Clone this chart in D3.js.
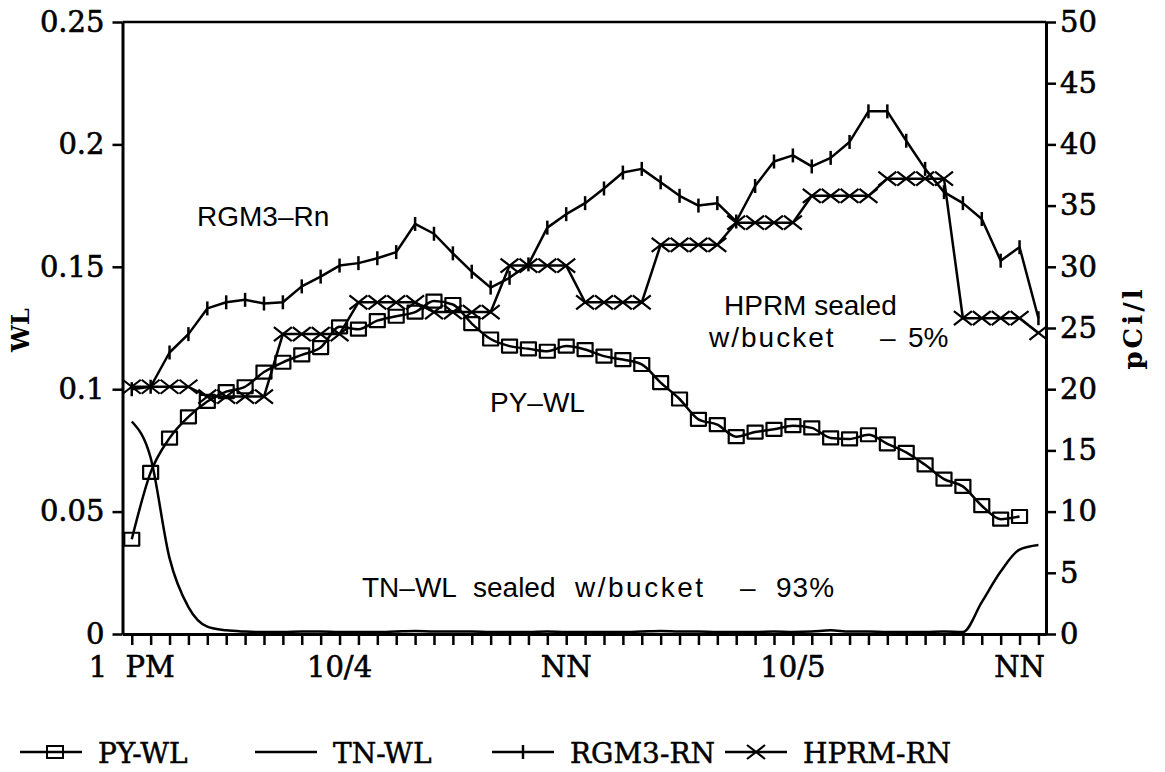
<!DOCTYPE html>
<html>
<head>
<meta charset="utf-8">
<script src="https://cdn.jsdelivr.net/npm/d3@7"></script>
<style>
  body { margin: 0; background: #fff; }
  svg { display: block; }
  .tick-label { font-family: "DejaVu Serif", serif; font-size: 29px; fill: #000; stroke: #000; stroke-width: 0.6px; }
  .note { font-family: "Liberation Sans", Arial, sans-serif; font-size: 28px; fill: #000; }
  .legend-text { font-family: "DejaVu Serif", serif; font-size: 28px; fill: #000; stroke: #000; stroke-width: 0.5px; }
  .axis-title { font-family: "DejaVu Serif", serif; font-weight: bold; font-size: 24px; fill: #000; }
</style>
</head>
<body>
<svg id="chart"></svg>
<script>
// hourly samples, 1 PM 10/3 through 1 PM 10/5
const hours = d3.range(0, 49);

// WL (left axis)
const pyWL = [0.0387, 0.066, 0.080, 0.0887, 0.095, 0.099, 0.101, 0.107, 0.111, 0.114,
  0.117, 0.1255, 0.1245, 0.128, 0.1298, 0.1315, 0.136, 0.1346, 0.1268, 0.1205,
  0.1176, 0.1165, 0.1155, 0.1176, 0.1162, 0.1135, 0.1121, 0.1101, 0.1027, 0.096,
  0.0877, 0.0855, 0.0806, 0.0825, 0.0836, 0.0851, 0.0842, 0.0801, 0.0797, 0.0814,
  0.0777, 0.0742, 0.0691, 0.0633, 0.0603, 0.0524, 0.0469, 0.048];
const tnWL = [0.0868, 0.072, 0.031, 0.011, 0.003, 0.0015, 0.001, 0.0008, 0.0008, 0.001,
  0.001, 0.0008, 0.0008, 0.0008, 0.001, 0.0012, 0.001, 0.001, 0.001, 0.0008,
  0.0008, 0.0008, 0.001, 0.0008, 0.0008, 0.0008, 0.0008, 0.001, 0.0012, 0.001,
  0.001, 0.0008, 0.0008, 0.0008, 0.001, 0.0008, 0.001, 0.0015, 0.001, 0.001,
  0.0008, 0.0008, 0.0008, 0.001, 0.0008, 0.013, 0.0255, 0.0345, 0.0364];

// pCi/l (right axis)
const rgm3RN = [20.0, 20.2, 23.0, 24.5, 26.6, 27.1, 27.3, 27.0, 27.1, 28.4,
  29.2, 30.1, 30.3, 30.7, 31.2, 33.5, 32.7, 31.1, 29.6, 28.3,
  29.1, 30.2, 33.2, 34.3, 35.2, 36.4, 37.7, 38.0, 36.9, 35.8,
  35.0, 35.2, 33.7, 36.6, 38.6, 39.1, 38.2, 38.9, 40.2, 42.7,
  42.7, 40.3, 38.0, 36.1, 35.2, 33.9, 30.5, 31.6, 25.8];
const hprmRN = [20.2, 20.2, 20.2, 20.2, 19.4, 19.4, 19.4, 19.4, 24.5, 24.5,
  24.5, 24.5, 27.1, 27.1, 27.1, 27.1, 26.3, 26.3, 26.3, 26.3,
  30.1, 30.1, 30.1, 30.1, 27.1, 27.1, 27.1, 27.1, 31.8, 31.8,
  31.8, 31.8, 33.6, 33.6, 33.6, 33.6, 35.8, 35.8, 35.8, 35.8,
  37.2, 37.2, 37.2, 37.2, 25.8, 25.8, 25.8, 25.8, 24.6];

// axis labels
const xLabelHours = [0, 11, 23, 35, 47];
const xLabels = ['1  PM', '10/4', 'NN', '10/5', 'NN'];
const wlTicks = [0, 0.05, 0.1, 0.15, 0.2, 0.25];
const pciTicks = [0, 5, 10, 15, 20, 25, 30, 35, 40, 45, 50];
const legendNames = ['PY-WL', 'TN-WL', 'RGM3-RN', 'HPRM-RN'];

const width = 1165;
const height = 772;
const plotLeft = 122.5, plotRight = 1046, plotTop = 22, plotBottom = 634;

const svg = d3.select('#chart')
  .attr('width', width)
  .attr('height', height);

// scales
const x = d3.scaleLinear().domain([-0.49, 48.4]).range([plotLeft, plotRight]);
const yWL = d3.scaleLinear().domain([0, 0.25]).range([plotBottom, plotTop]);
const yPCi = d3.scaleLinear().domain([0, 50]).range([plotBottom, plotTop]);

// frame top
svg.append('line')
  .attr('x1', plotLeft).attr('x2', plotRight)
  .attr('y1', plotTop).attr('y2', plotTop)
  .attr('stroke', '#000').attr('stroke-width', 2.5);

// axes
const styleAxis = g => {
  g.select('.domain').attr('stroke-width', 3);
  g.selectAll('.tick line').attr('stroke-width', 2.5);
  g.selectAll('.tick text').attr('class', 'tick-label');
};

svg.append('g')
  .attr('transform', `translate(0, ${plotBottom})`)
  .call(d3.axisBottom(x).tickValues(hours).tickSize(11).tickSizeOuter(0).tickFormat(''))
  .call(styleAxis);

svg.append('g')
  .attr('transform', `translate(${plotLeft}, 0)`)
  .call(d3.axisLeft(yWL).tickValues(wlTicks).tickSize(10).tickSizeOuter(0)
    .tickPadding(8).tickFormat(d => String(+d.toFixed(2))))
  .call(styleAxis);

svg.append('g')
  .attr('transform', `translate(${plotRight}, 0)`)
  .call(d3.axisRight(yPCi).tickValues(pciTicks).tickSize(10).tickSizeOuter(0).tickPadding(4))
  .call(styleAxis);

// x labels
svg.append('g').selectAll('text')
  .data(xLabels)
  .enter()
  .append('text')
  .attr('class', 'tick-label')
  .attr('x', (d, i) => x(xLabelHours[i]))
  .attr('y', 677)
  .attr('text-anchor', 'middle')
  .style('white-space', 'pre')
  .text(d => d);

// axis titles
svg.append('text')
  .attr('class', 'axis-title')
  .attr('transform', 'translate(29, 330) rotate(-90)')
  .attr('text-anchor', 'middle')
  .text('WL');

svg.append('text')
  .attr('class', 'axis-title')
  .attr('transform', 'translate(1142, 328) rotate(-90)')
  .attr('text-anchor', 'middle')
  .attr('letter-spacing', 3)
  .style('font-size', '26px')
  .text('pCi/l');

// lines
const lineWL = d3.line().x((d, i) => x(hours[i])).y(d => yWL(d));
const linePCi = d3.line().x((d, i) => x(hours[i])).y(d => yPCi(d));

const plot = svg.append('g')
  .attr('fill', 'none')
  .attr('stroke', '#000')
  .attr('stroke-width', 2.5)
  .attr('stroke-linejoin', 'round');

plot.append('path').attr('d', lineWL.curve(d3.curveMonotoneX)(tnWL));
plot.append('path').attr('d', lineWL.curve(d3.curveMonotoneX)(pyWL));
plot.append('path').attr('d', linePCi.curve(d3.curveLinear)(rgm3RN));
plot.append('path').attr('d', linePCi.curve(d3.curveLinear)(hprmRN));

// markers
plot.selectAll('.sq')
  .data(pyWL)
  .enter()
  .append('rect')
  .attr('x', (d, i) => x(hours[i]) - 7.5)
  .attr('y', d => yWL(d) - 6.5)
  .attr('width', 15)
  .attr('height', 13)
  .attr('stroke-width', 2.2);

plot.selectAll('.tk')
  .data(rgm3RN)
  .enter()
  .append('line')
  .attr('x1', (d, i) => x(hours[i]))
  .attr('x2', (d, i) => x(hours[i]))
  .attr('y1', d => yPCi(d) - 7)
  .attr('y2', d => yPCi(d) + 7);

const cross = 'M-9,-7L9,7M-9,7L9,-7';
plot.selectAll('.cx')
  .data(hprmRN)
  .enter()
  .append('path')
  .attr('transform', (d, i) => `translate(${x(hours[i])}, ${yPCi(d)})`)
  .attr('d', cross)
  .attr('stroke-width', 2.2);

// notes in plot
const notes = [
  { t: 'RGM3\u2013Rn', x: 197, y: 226, ls: 0 },
  { t: 'PY\u2013WL', x: 490, y: 412, ls: 0 },
  { t: 'HPRM sealed', x: 724, y: 315, ls: 0 },
  { t: 'w/bucket', x: 709, y: 347, ls: 2 },
  { t: '\u2013', x: 880, y: 347, ls: 0 },
  { t: '5%', x: 908, y: 347, ls: 0 },
  { t: 'TN\u2013WL', x: 362, y: 597, ls: 0 },
  { t: 'sealed', x: 473, y: 597, ls: 0 },
  { t: 'w/bucket', x: 575, y: 597, ls: 2.5 },
  { t: '\u2013', x: 740, y: 597, ls: 0 },
  { t: '93%', x: 776, y: 597, ls: 1 }
];
svg.append('g').selectAll('text')
  .data(notes)
  .enter()
  .append('text')
  .attr('class', 'note')
  .attr('x', d => d.x)
  .attr('y', d => d.y)
  .attr('letter-spacing', d => d.ls)
  .text(d => d.t);

// legend
const legendX = [20, 255, 492, 725];
const legend = svg.append('g');
legendNames.forEach((name, i) => {
  const x0 = legendX[i], y0 = 752;
  const g = legend.append('g').attr('stroke', '#000').attr('fill', 'none').attr('stroke-width', 2.5);
  g.append('line').attr('x1', x0).attr('x2', x0 + 62).attr('y1', y0).attr('y2', y0);
  if (i === 0) {
    g.append('rect').attr('x', x0 + 27).attr('y', y0 - 6).attr('width', 16).attr('height', 12).attr('stroke-width', 2);
  } else if (i === 2) {
    g.append('line').attr('x1', x0 + 31).attr('x2', x0 + 31).attr('y1', y0 - 7).attr('y2', y0 + 7);
  } else if (i === 3) {
    g.append('path').attr('transform', `translate(${x0 + 31}, ${y0})`).attr('d', cross).attr('stroke-width', 2.2);
  }
  legend.append('text')
    .attr('class', 'legend-text')
    .attr('x', x0 + 78)
    .attr('y', 763)
    .text(name);
});
</script>
</body>
</html>
